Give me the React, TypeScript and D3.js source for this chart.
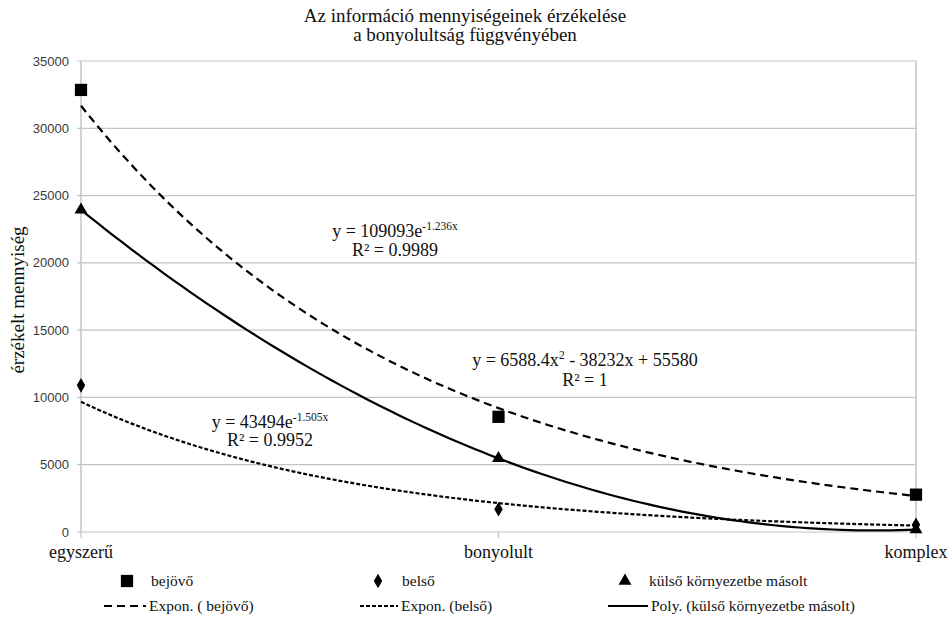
import * as d3 from 'd3'

// categories on the x axis
const categories = ['egyszerű', 'bonyolult', 'komplex']

const bejovo = [32850, 8560, 2775]
const belso = [10900, 1690, 537]
const kulso = [23936, 5470, 180]

const yTicks = [0, 5000, 10000, 15000, 20000, 25000, 30000, 35000]

const titleLines = ['Az információ mennyiségeinek érzékelése', 'a bonyolultság függvényében']
const yTitle = 'érzékelt mennyiség'

// Excel-like exponential fit on ln(y), x = 1..n
function expFit(values: number[]) {
  const xs = values.map((_, i) => i + 1)
  const ls = values.map((v) => Math.log(v))
  const mx = d3.mean(xs) ?? 0
  const ml = d3.mean(ls) ?? 0
  const b = d3.sum(xs.map((x, i) => (x - mx) * (ls[i] - ml))) / d3.sum(xs.map((x) => (x - mx) ** 2))
  const a = Math.exp(ml - b * mx)
  return (x: number) => a * Math.exp(b * x)
}

// quadratic through three points at x = 1, 2, 3
function polyFit(values: number[]) {
  const [y1, y2, y3] = values
  const a = (y1 - 2 * y2 + y3) / 2
  const b = y2 - y1 - 3 * a
  const c = y1 - a - b
  return (x: number) => a * x * x + b * x + c
}

const serif = "'Liberation Serif', Tinos, 'DejaVu Serif', serif"
const sans = "'Liberation Sans', Arimo, sans-serif"

export default function App() {
  const width = 951
  const height = 623
  const left = 81
  const right = 916
  const top = 61
  const bottom = 532

  const x = d3.scalePoint<string>().domain(categories).range([left, right])
  const xc = d3.scaleLinear().domain([1, categories.length]).range([left, right])
  const y = d3.scaleLinear().domain([0, 35000]).range([bottom, top])

  const samples = d3.range(1, categories.length + 0.0001, 0.02)
  const trendLine = (f: (v: number) => number) =>
    d3
      .line<number>()
      .x((t) => xc(t))
      .y((t) => y(Math.max(f(t), 0)))(samples) ?? ''

  const square = d3.symbol(d3.symbolSquare, 150)() ?? ''
  const diamond = d3.symbol(d3.symbolDiamond, 62)() ?? ''
  const triangle = d3.symbol(d3.symbolTriangle, 72)() ?? ''

  const series = [
    { name: 'bejövő', values: bejovo, marker: square, dash: '8,5', fit: expFit(bejovo), trend: 'Expon. ( bejövő)' },
    { name: 'belső', values: belso, marker: diamond, dash: '4,2', fit: expFit(belso), trend: 'Expon. (belső)' },
    {
      name: 'külső környezetbe másolt',
      values: kulso,
      marker: triangle,
      dash: undefined,
      fit: polyFit(kulso),
      trend: 'Poly. (külső környezetbe másolt)',
    },
  ]

  const legendX = [127, 378, 625]
  const legendLine = [
    [104, 146],
    [360, 398],
    [608, 648],
  ]

  return (
    <svg
      width={width}
      height={height}
      style={{ position: 'absolute', left: 0, top: 0, background: '#fff' }}
    >
      <g style={{ fontFamily: serif }} fill="#111">
        {/* title */}
        <text x={465} y={22} textAnchor="middle" fontSize={19}>
          <tspan x={465}>{titleLines[0]}</tspan>
          <tspan x={465} dy={19}>
            {titleLines[1]}
          </tspan>
        </text>

        {/* gridlines + y ticks */}
        {yTicks.map((t) => (
          <g key={t}>
            <line x1={left - 4} x2={right} y1={y(t)} y2={y(t)} stroke="#c4c4c4" strokeWidth={1.2} />
            <text
              x={69}
              y={y(t) + 4.5}
              textAnchor="end"
              style={{ fontFamily: sans }}
              fontSize={13}
              fill="#3a3a3a"
            >
              {t}
            </text>
          </g>
        ))}
        <line x1={left} x2={left} y1={top} y2={bottom} stroke="#c4c4c4" strokeWidth={1.5} />
        <line x1={right} x2={right} y1={top} y2={bottom} stroke="#c4c4c4" strokeWidth={1.5} />

        {/* category ticks + labels */}
        {categories.map((c) => (
          <g key={c}>
            <line x1={x(c)} x2={x(c)} y1={bottom} y2={bottom + 6} stroke="#c4c4c4" strokeWidth={1.2} />
            <text x={x(c)} y={558} textAnchor="middle" fontSize={18}>
              {c}
            </text>
          </g>
        ))}

        <text transform={`translate(24,300) rotate(-90)`} textAnchor="middle" fontSize={19}>
          {yTitle}
        </text>

        {/* trendlines */}
        {series.map((s) => (
          <path
            key={s.trend}
            d={trendLine(s.fit)}
            fill="none"
            stroke="#000"
            strokeWidth={2.2}
            strokeDasharray={s.dash}
          />
        ))}

        {/* markers */}
        {series.map((s) =>
          s.values.map((v, i) => (
            <path key={s.name + i} d={s.marker} transform={`translate(${x(categories[i])},${y(v)})`} fill="#000" />
          )),
        )}

        {/* trendline equations */}
        <g fontSize={18} textAnchor="middle">
          <text x={395} y={237}>
            y = 109093e
            <tspan fontSize={11.5} dy={-7}>
              -1.236x
            </tspan>
          </text>
          <text x={395} y={256}>
            R² = 0.9989
          </text>
          <text x={585} y={366}>
            y = 6588.4x
            <tspan fontSize={11.5} dy={-7}>
              2
            </tspan>
            <tspan dy={7}> - 38232x + 55580</tspan>
          </text>
          <text x={585} y={386}>
            R² = 1
          </text>
          <text x={270} y={428}>
            y = 43494e
            <tspan fontSize={11.5} dy={-7}>
              -1.505x
            </tspan>
          </text>
          <text x={270} y={446}>
            R² = 0.9952
          </text>
        </g>

        {/* legend */}
        <g fontSize={15.5}>
          {series.map((s, i) => (
            <g key={'lg' + s.name}>
              <path d={s.marker} transform={`translate(${legendX[i]},581)`} fill="#000" />
              <text x={legendX[i] + 24} y={586}>
                {s.name}
              </text>
              <line
                x1={legendLine[i][0]}
                x2={legendLine[i][1]}
                y1={606}
                y2={606}
                stroke="#000"
                strokeWidth={2.2}
                strokeDasharray={s.dash}
              />
              <text x={legendLine[i][1] + 3} y={611}>
                {s.trend}
              </text>
            </g>
          ))}
        </g>
      </g>
    </svg>
  )
}
